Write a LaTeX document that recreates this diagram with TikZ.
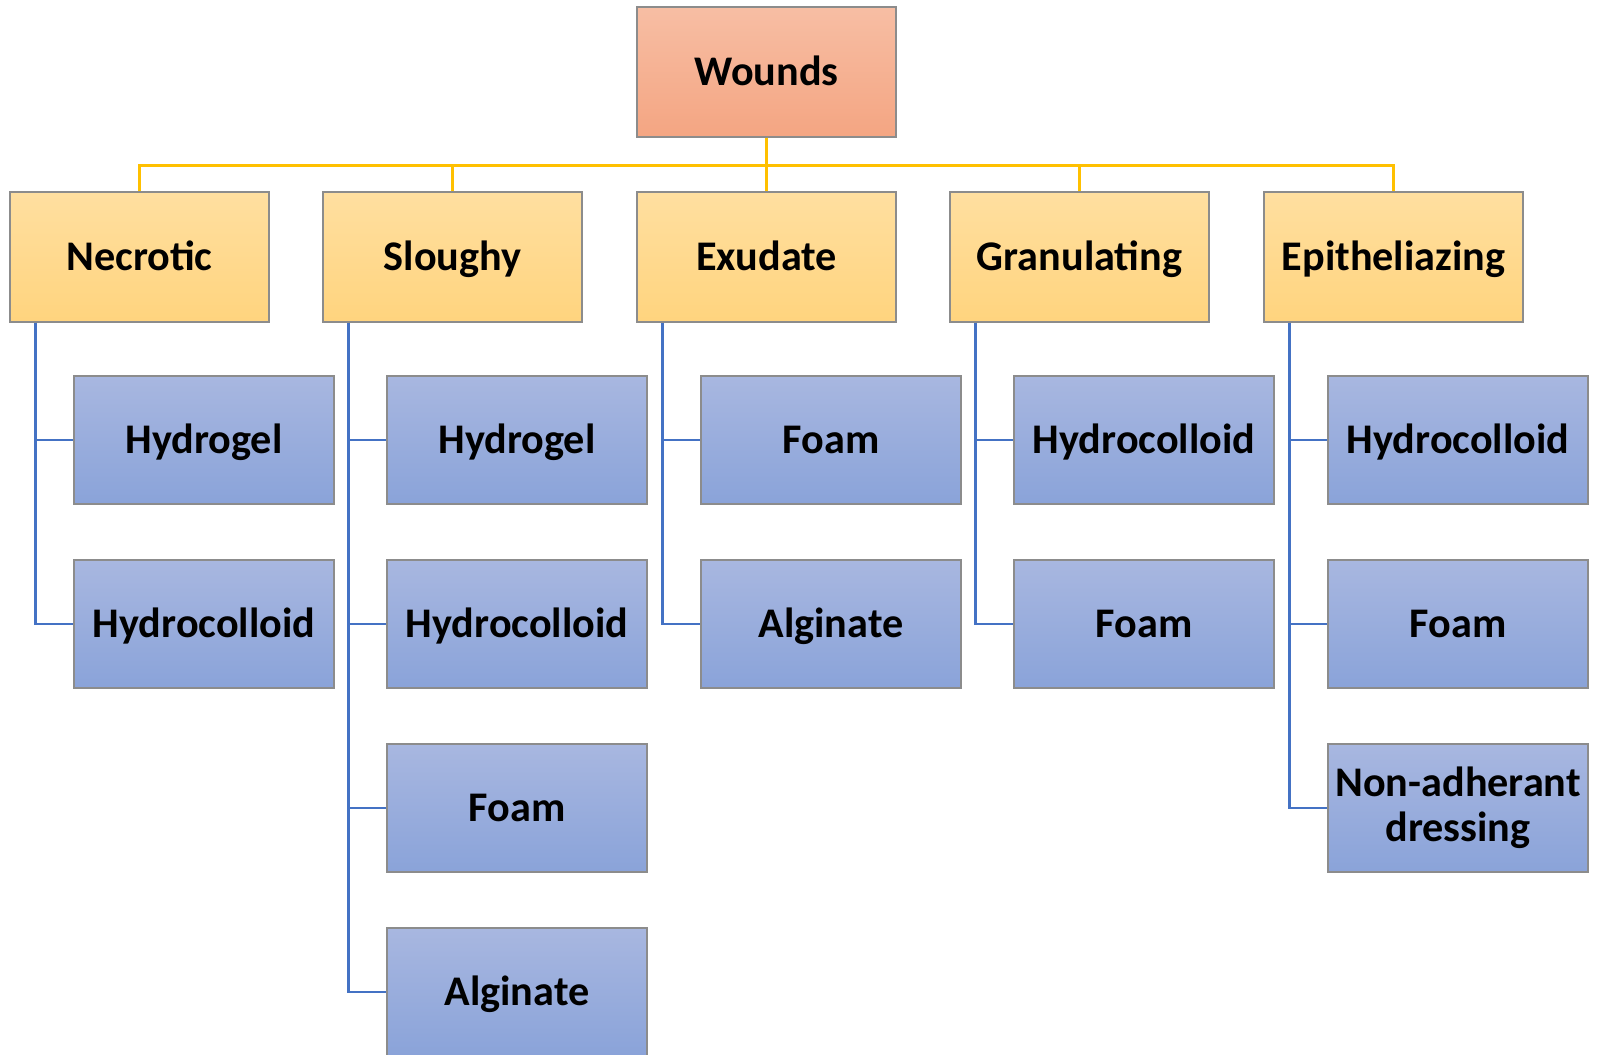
\documentclass[tikz,border=0pt]{standalone}
\usepackage{fontspec}
\setmainfont{Carlito}
\usepackage{tikz}

\definecolor{woundtop}{HTML}{F7BEA4}
\definecolor{woundbot}{HTML}{F4A582}
\definecolor{typetop}{HTML}{FFDFA0}
\definecolor{typebot}{HTML}{FFD47E}
\definecolor{dresstop}{HTML}{A8B7E0}
\definecolor{dressbot}{HTML}{8AA3D9}
\definecolor{boxline}{HTML}{8C8C8C}
\definecolor{ylink}{HTML}{FFC000}
\definecolor{blink}{HTML}{4472C4}
\newcommand{\boxfont}{\bfseries\fontsize{12}{12.8}\selectfont}

\begin{document}
\begin{tikzpicture}[x=0.01cm,y=-0.01cm]
\tikzset{rootbox/.style = {draw=boxline,top color=woundtop,bottom color=woundbot,minimum width=2.59cm,minimum height=1.30cm,inner sep=0pt,font=\boxfont,text height=0.75em,text depth=0pt}}
\tikzset{typebox/.style = {draw=boxline,top color=typetop,bottom color=typebot,minimum width=2.59cm,minimum height=1.30cm,inner sep=0pt,font=\boxfont,text height=0.75em,text depth=0pt}}
\tikzset{dressbox/.style = {draw=boxline,top color=dresstop,bottom color=dressbot,minimum width=2.60cm,minimum height=1.28cm,inner sep=0pt,align=center,font=\boxfont,text height=0.75em,text depth=0pt}}
\tikzset{ybranch/.style = {draw=ylink,line width=0.8pt}}
\tikzset{bbranch/.style = {draw=blink,line width=0.8pt}}
\useasboundingbox (0,0) rectangle (1598,1054);
% root
\node[rootbox] (wounds) at (766.5,72) {Wounds};
% wound types
\node[typebox] (nec) at (139.5,257) {Necrotic};
\node[typebox] (slo) at (452.5,257) {Sloughy};
\node[typebox] (exu) at (766.5,257) {Exudate};
\node[typebox] (gra) at (1079.5,257) {Granulating};
\node[typebox] (epi) at (1393.5,257) {Epitheliazing};
% dressings
\node[dressbox] (nec1) at (204,440) {Hydrogel};
\node[dressbox] (nec2) at (204,624) {Hydrocolloid};
\node[dressbox] (slo1) at (517,440) {Hydrogel};
\node[dressbox] (slo2) at (517,624) {Hydrocolloid};
\node[dressbox] (slo3) at (517,808) {Foam};
\node[dressbox] (slo4) at (517,992) {Alginate};
\node[dressbox] (exu1) at (831,440) {Foam};
\node[dressbox] (exu2) at (831,624) {Alginate};
\node[dressbox] (gra1) at (1144,440) {Hydrocolloid};
\node[dressbox] (gra2) at (1144,624) {Foam};
\node[dressbox] (epi1) at (1458,440) {Hydrocolloid};
\node[dressbox] (epi2) at (1458,624) {Foam};
\node[dressbox,text height=,text depth=] (epi3) at (1458,808) {Non-adherant\\dressing};
%edges
\draw[ybranch] (wounds.south) -- ++(0,28) -| (nec.north);
\draw[ybranch] (wounds.south) -- ++(0,28) -| (slo.north);
\draw[ybranch] (wounds.south) -- (exu.north);
\draw[ybranch] (wounds.south) -- ++(0,28) -| (gra.north);
\draw[ybranch] (wounds.south) -- ++(0,28) -| (epi.north);
\draw[bbranch] ([xshift=0.26cm]nec.south west) |- (nec1.west);
\draw[bbranch] ([xshift=0.26cm]nec.south west) |- (nec2.west);
\draw[bbranch] ([xshift=0.26cm]slo.south west) |- (slo1.west);
\draw[bbranch] ([xshift=0.26cm]slo.south west) |- (slo2.west);
\draw[bbranch] ([xshift=0.26cm]slo.south west) |- (slo3.west);
\draw[bbranch] ([xshift=0.26cm]slo.south west) |- (slo4.west);
\draw[bbranch] ([xshift=0.26cm]exu.south west) |- (exu1.west);
\draw[bbranch] ([xshift=0.26cm]exu.south west) |- (exu2.west);
\draw[bbranch] ([xshift=0.26cm]gra.south west) |- (gra1.west);
\draw[bbranch] ([xshift=0.26cm]gra.south west) |- (gra2.west);
\draw[bbranch] ([xshift=0.26cm]epi.south west) |- (epi1.west);
\draw[bbranch] ([xshift=0.26cm]epi.south west) |- (epi2.west);
\draw[bbranch] ([xshift=0.26cm]epi.south west) |- (epi3.west);
\end{tikzpicture}
\end{document}
